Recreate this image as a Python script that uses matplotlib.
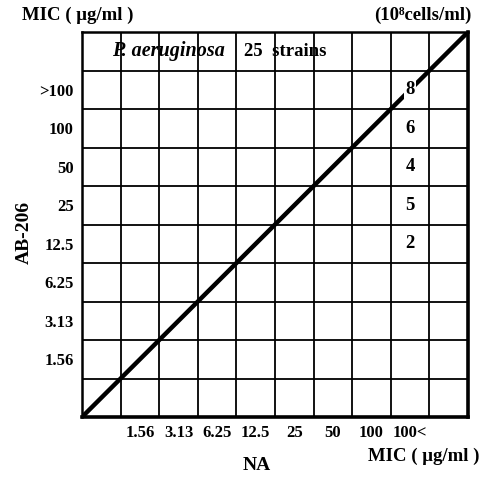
import numpy as np
import matplotlib
matplotlib.use('Agg')
import matplotlib.pyplot as plt

plt.rcParams['font.family'] = ['Liberation Serif', 'DejaVu Serif']

# MIC categories (grid cells), NA on x, AB-206 on y
x_labels = ['1.56', '3.13', '6.25', '12.5', '25', '50', '100', '100<']
y_labels = ['1.56', '3.13', '6.25', '12.5', '25', '50', '100', '>100']

# strain counts: NA column index, AB-206 row index, number of strains
count_x = [7, 7, 7, 7, 7]
count_y = [7, 6, 5, 4, 3]
counts = [8, 6, 4, 5, 2]

n_cells = 10

fig = plt.figure(figsize=(4.81, 4.83), dpi=100)
ax = fig.add_axes([0.1705, 0.1366, 0.8025, 0.7971])
ax.set_xlim(0, n_cells)
ax.set_ylim(0, n_cells)

# grid
for i in range(1, n_cells):
    ax.axvline(i, color='black', lw=1.3)
    ax.axhline(i, color='black', lw=1.3)
for side in ['left', 'top']:
    ax.spines[side].set_linewidth(1.8)
for side in ['right', 'bottom']:
    ax.spines[side].set_linewidth(2.6)

# diagonal
ax.plot([0, n_cells], [0, n_cells], color='black', lw=3.2, solid_capstyle='butt')

# counts
for cx, cy, n in zip(count_x, count_y, counts):
    ax.text(cx + 1.5, cy + 1.5, str(n), ha='center', va='center', fontsize=13.5,
            fontweight='bold', zorder=5,
            bbox=dict(boxstyle='square,pad=0.05', fc='white', ec='none') if n == 8 else None)

# tick labels
ax.set_xticks(np.arange(len(x_labels)) + 1.5)
ax.set_xticklabels(x_labels)
ax.set_yticks(np.arange(len(y_labels)) + 1.5)
ax.set_yticklabels(y_labels)
ax.tick_params(length=0, labelsize=12, pad=6)
for t in ax.get_xticklabels() + ax.get_yticklabels():
    t.set_fontweight('bold')

# title row
ax.text(0.78, 9.5, 'P. aeruginosa', fontsize=14.5, ha='left', va='center',
        fontstyle='italic', fontweight='bold')
ax.text(4.2, 9.5, '25  strains', fontsize=13.5, ha='left', va='center',
        fontweight='bold')

fig.text(22 / 481, 1 - 15 / 483, 'MIC ( μg/ml )', fontsize=13.5, fontweight='bold',
         ha='left', va='center')
fig.text(472 / 481, 1 - 15 / 483, '(10⁸cells/ml)', fontsize=13.5, fontweight='bold',
         ha='right', va='center')
fig.text(480 / 481, 1 - 456 / 483, 'MIC ( μg/ml )', fontsize=13.5, fontweight='bold',
         ha='right', va='center')
fig.text(257 / 481, 1 - 466 / 483, 'NA', fontsize=14, fontweight='bold',
         ha='center', va='center')
fig.text(24 / 481, 1 - 232 / 483, 'AB-206', fontsize=14, fontweight='bold',
         ha='center', va='center', rotation=90)

fig.savefig('out.png', dpi=100, facecolor='white')
